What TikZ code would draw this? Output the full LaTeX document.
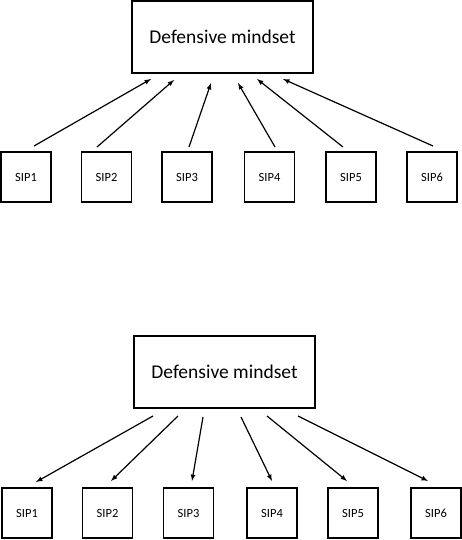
\documentclass[tikz,border=0pt]{standalone}
\usepackage{fontspec}
\setmainfont{Carlito}
\usepackage{tikz}
\usetikzlibrary{calc}
\tikzset{
  mindbox/.style={draw,line width=1.4pt,minimum width=181pt,minimum height=72pt,font=\fontsize{19.5}{22}\selectfont},
  sipbox/.style={draw,line width=1.4pt,minimum width=50pt,minimum height=50pt,font=\fontsize{12.5}{14}\selectfont},
  link/.style={->,>=latex,line width=1.2pt}
}
\begin{document}
\begin{tikzpicture}[x=1pt,y=-1pt]
\useasboundingbox (0,0) rectangle (462,540);
% upper diagram: SIPs feed the mindset
\node[mindbox] (dmA) at (222.5,37) {Defensive mindset};
\node[sipbox] (a1) at (26,177) {SIP1};
\node[sipbox] (a2) at (106.5,177) {SIP2};
\node[sipbox] (a3) at (187,177) {SIP3};
\node[sipbox] (a4) at (269.5,177) {SIP4};
\node[sipbox] (a5) at (351,177) {SIP5};
\node[sipbox] (a6) at (432,177) {SIP6};
\coordinate (a1t) at (34,146);  \coordinate (a1h) at (151,79);
\coordinate (a2t) at (97,147);  \coordinate (a2h) at (174,80);
\coordinate (a3t) at (189,147); \coordinate (a3h) at (211,83);
\coordinate (a4t) at (275,147); \coordinate (a4h) at (238,83);
\coordinate (a5t) at (343,147); \coordinate (a5h) at (257,79);
\coordinate (a6t) at (433,146); \coordinate (a6h) at (283,79);
\draw[link] (a1t)--(a1h);
\draw[link] (a2t)--(a2h);
\draw[link] (a3t)--(a3h);
\draw[link] (a4t)--(a4h);
\draw[link] (a5t)--(a5h);
\draw[link] (a6t)--(a6h);
% lower diagram: the mindset drives the SIPs
\node[mindbox] (dmB) at (224.5,372) {Defensive mindset};
\node[sipbox] (b1) at (27,513) {SIP1};
\node[sipbox] (b2) at (107.5,513) {SIP2};
\node[sipbox] (b3) at (188.5,513) {SIP3};
\node[sipbox] (b4) at (272,513) {SIP4};
\node[sipbox] (b5) at (353,513) {SIP5};
\node[sipbox] (b6) at (436,513) {SIP6};
\coordinate (b1t) at (153,416); \coordinate (b1h) at (36,482);
\coordinate (b2t) at (178,416); \coordinate (b2h) at (111,481);
\coordinate (b3t) at (203,417); \coordinate (b3h) at (192,481);
\coordinate (b4t) at (241,417); \coordinate (b4h) at (272,481);
\coordinate (b5t) at (267,416); \coordinate (b5h) at (347,481);
\coordinate (b6t) at (298,416); \coordinate (b6h) at (428,481);
\draw[link] (b1t)--(b1h);
\draw[link] (b2t)--(b2h);
\draw[link] (b3t)--(b3h);
\draw[link] (b4t)--(b4h);
\draw[link] (b5t)--(b5h);
\draw[link] (b6t)--(b6h);
\end{tikzpicture}
\end{document}
